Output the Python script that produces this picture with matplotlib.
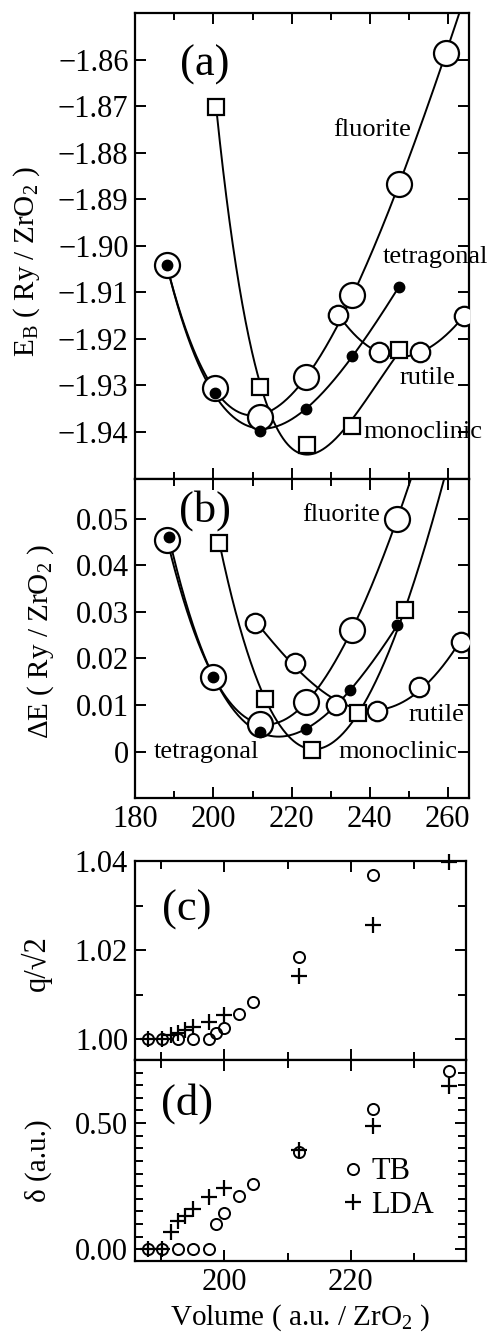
import numpy as np
import matplotlib
matplotlib.use('Agg')
import matplotlib.pyplot as plt
from matplotlib.ticker import MultipleLocator, FuncFormatter

plt.rcParams['font.family'] = ['Liberation Serif', 'DejaVu Serif']
plt.rcParams['mathtext.fontset'] = 'custom'
plt.rcParams['mathtext.rm'] = 'Liberation Serif'
plt.rcParams['mathtext.it'] = 'Liberation Serif:italic'
plt.rcParams['axes.linewidth'] = 1.6

# (a) binding energy E_B (Ry / ZrO2) vs volume (a.u. / ZrO2)
vol_fluor_a = [188.0, 200.3, 212.0, 223.8, 235.6, 247.6, 259.6]
eb_fluor_a = [-1.9042, -1.9305, -1.9368, -1.9281, -1.9105, -1.8868, -1.8586]
vol_tetra_a = [188.0, 200.4, 212.0, 223.8, 235.4, 247.6]
eb_tetra_a = [-1.9042, -1.9317, -1.9398, -1.9350, -1.9236, -1.9089]
vol_mono_a = [200.7, 211.8, 224.0, 235.6, 247.6]
eb_mono_a = [-1.8701, -1.9303, -1.9429, -1.9387, -1.9224]
vol_rut_a = [232.0, 242.4, 253.0, 264.3]
eb_rut_a = [-1.9148, -1.9229, -1.9229, -1.9150]
eb_ticks = [-1.94, -1.93, -1.92, -1.91, -1.90, -1.89, -1.88, -1.87, -1.86]

# (b) energy difference dE (Ry / ZrO2)
vol_fluor_b = [188.1, 200.0, 212.0, 223.7, 235.6, 247.1]
de_fluor_b = [0.0455, 0.0161, 0.0059, 0.0107, 0.0262, 0.0500]
vol_tetra_b = [188.6, 200.0, 212.0, 223.7, 235.1, 247.1]
de_tetra_b = [0.0460, 0.0160, 0.0042, 0.0049, 0.0132, 0.0271]
vol_mono_b = [201.5, 213.3, 225.2, 237.1, 249.0]
de_mono_b = [0.0448, 0.0113, 0.0004, 0.0083, 0.0304]
vol_rut_b = [210.7, 221.0, 231.5, 242.0, 252.7, 263.4]
de_rut_b = [0.0277, 0.0191, 0.0100, 0.0088, 0.0138, 0.0236]
de_ticks = [0, 0.01, 0.02, 0.03, 0.04, 0.05]

# (c), (d) tetragonal distortion, TB vs LDA
vol_tb = [188.0, 190.2, 192.7, 195.1, 197.6, 198.7, 200.0, 202.4, 204.6, 211.8, 223.5, 235.5]
q_tb = [1.000, 1.000, 1.000, 1.000, 1.000, 1.0013, 1.0026, 1.0056, 1.0084, 1.0185, 1.0370, np.nan]
d_tb = [0.0, 0.0, 0.0, 0.0, 0.0, 0.100, 0.145, 0.209, 0.259, 0.385, 0.555, 0.707]
vol_lda = [188.0, 190.2, 191.6, 192.7, 193.8, 195.0, 197.6, 200.0, 211.8, 223.5, 235.5]
q_lda = [1.000, 1.000, 1.0009, 1.0014, 1.0020, 1.0028, 1.0039, 1.0054, 1.0142, 1.0256, 1.0398]
d_lda = [0.0, 0.0, 0.070, 0.111, 0.133, 0.159, 0.206, 0.243, 0.392, 0.489, 0.645]


def fit_curve(vol, en, v_end=None):
    # Birch-Murnaghan like cubic fit in V^(-2/3)
    x = np.asarray(vol) ** (-2.0 / 3.0)
    p = np.polynomial.Polynomial.fit(x, en, 3)
    vv = np.linspace(min(vol), v_end if v_end else max(vol), 400)
    return vv, p(vv ** (-2.0 / 3.0))


def style_axes(ax):
    ax.tick_params(which='both', direction='in', top=True, right=True,
                   labelsize=22, width=1.4, pad=5)
    ax.tick_params(which='major', length=8)
    ax.tick_params(which='minor', length=5)


fig = plt.figure(figsize=(4.9, 13.36), dpi=100)
axa = fig.add_axes([0.2765, 0.6418, 0.6806, 0.3485])
axb = fig.add_axes([0.2765, 0.4025, 0.6806, 0.2393])
axc = fig.add_axes([0.2755, 0.2066, 0.6755, 0.1486])
axd = fig.add_axes([0.2755, 0.0561, 0.6755, 0.1505])

lw = 1.4
xmax = 265.5
series_ab = [
    (axa, vol_fluor_a, eb_fluor_a, vol_tetra_a, eb_tetra_a, vol_mono_a, eb_mono_a, vol_rut_a, eb_rut_a, False),
    (axb, vol_fluor_b, de_fluor_b, vol_tetra_b, de_tetra_b, vol_mono_b, de_mono_b, vol_rut_b, de_rut_b, True),
]
for ax, vf, ef, vt, et, vm, em, vr, er, ext_mono in series_ab:
    for v, e, end in [(vf, ef, xmax), (vt, et, None), (vm, em, xmax if ext_mono else None), (vr, er, None)]:
        vv, ee = fit_curve(v, e, end)
        ax.plot(vv, ee, color='black', lw=lw, zorder=2)
    ax.plot(vr, er, 'o', ms=14, mfc='white', mec='black', mew=1.6, zorder=3)
    ax.plot(vf, ef, 'o', ms=18, mfc='white', mec='black', mew=1.6, zorder=3)
    ax.plot(vm, em, 's', ms=11, mfc='white', mec='black', mew=1.6, zorder=4)
    ax.plot(vt, et, 'o', ms=7.5, color='black', zorder=5)
    ax.set_xlim(180, xmax)
    ax.xaxis.set_major_locator(MultipleLocator(20))
    ax.xaxis.set_minor_locator(MultipleLocator(10))
    style_axes(ax)

axa.set_ylim(-1.95, -1.85)
axa.set_yticks(eb_ticks)
axa.tick_params(labelbottom=False)
axa.yaxis.set_major_formatter(FuncFormatter(lambda v, p: f'{v:.2f}'.replace('-', '\u2212')))
axa.set_ylabel(r'E$_{\rm B}$ ( Ry / ZrO$_{\rm 2}$ )', fontsize=21)
axa.yaxis.set_label_coords(-0.28, 0.465)
axa.text(0.208, 0.888, '(a)', transform=axa.transAxes, fontsize=32, ha='center', va='center')
axa.text(250.7, -1.8751, 'fluorite', fontsize=19, ha='right', va='center')
axa.text(243.5, -1.9024, 'tetragonal', fontsize=19, ha='left', va='center', clip_on=False)
axa.text(262.1, -1.9284, 'rutile', fontsize=19, ha='right', va='center')
axa.text(238.5, -1.9400, 'monoclinic', fontsize=19, ha='left', va='center', clip_on=False)

axb.set_ylim(-0.01, 0.0586)
axb.set_yticks(de_ticks)
axb.yaxis.set_major_formatter(FuncFormatter(lambda v, p: '0' if abs(v) < 1e-9 else f'{v:.2f}'))
axb.set_ylabel(r'$\Delta$E ( Ry / ZrO$_{\rm 2}$ )', fontsize=21)
axb.yaxis.set_label_coords(-0.238, 0.489)
axb.text(0.208, 0.90, '(b)', transform=axb.transAxes, fontsize=32, ha='center', va='center')
axb.text(242.6, 0.0507, 'fluorite', fontsize=19, ha='right', va='center')
axb.text(184.6, 0.0, 'tetragonal', fontsize=19, ha='left', va='center')
axb.text(232.0, 0.0, 'monoclinic', fontsize=19, ha='left', va='center')
axb.text(264.2, 0.0079, 'rutile', fontsize=19, ha='right', va='center')

for ax, ytb, ylda in [(axc, q_tb, q_lda), (axd, d_tb, d_lda)]:
    ax.plot(vol_tb, ytb, 'o', ms=8, mfc='none', mec='black', mew=1.4, clip_on=False, label='TB')
    ax.plot(vol_lda, ylda, '+', ms=11, color='black', mew=1.6, clip_on=False, label='LDA')
    ax.set_xlim(185.9, 238.2)
    ax.xaxis.set_major_locator(MultipleLocator(20))
    ax.xaxis.set_minor_locator(MultipleLocator(10))
    style_axes(ax)
    ax.tick_params(which='minor', length=6)

axc.set_ylim(0.9953, 1.04)
axc.yaxis.set_major_locator(MultipleLocator(0.02))
axc.yaxis.set_minor_locator(MultipleLocator(0.01))
axc.yaxis.set_major_formatter(FuncFormatter(lambda v, p: f'{v:.2f}'))
axc.tick_params(labelbottom=False)
axc.set_ylabel('q/\u221a2', fontsize=22)
axc.yaxis.set_label_coords(-0.25, 0.49)
axc.text(0.156, 0.756, '(c)', transform=axc.transAxes, fontsize=32, ha='center', va='center')

axd.set_ylim(-0.047, 0.75)
axd.yaxis.set_major_locator(MultipleLocator(0.5))
axd.yaxis.set_minor_locator(MultipleLocator(0.05))
axd.yaxis.set_major_formatter(FuncFormatter(lambda v, p: f'{v:.2f}'))
axd.set_ylabel('\u03b4 (a.u.)', fontsize=21)
axd.yaxis.set_label_coords(-0.25, 0.50)
axd.text(0.156, 0.786, '(d)', transform=axd.transAxes, fontsize=32, ha='center', va='center')
axd.set_xlabel(r'Volume ( a.u. / ZrO$_{\rm 2}$ )', fontsize=21, labelpad=4)
axd.legend(loc='center left', bbox_to_anchor=(0.585, 0.36), frameon=False, fontsize=22,
           handlelength=0.6, handletextpad=0.3, labelspacing=0.15, borderpad=0)

fig.savefig('out.png', dpi=100)
